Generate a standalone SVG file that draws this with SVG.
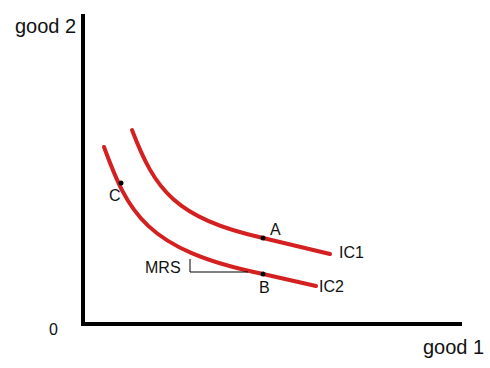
<svg xmlns="http://www.w3.org/2000/svg" width="490" height="368" viewBox="0 0 490 368">
<style>
text{font-family:"Liberation Sans",Arial,sans-serif;fill:#111;font-size:16px}
.lbl{font-size:20px}
.ic{fill:none;stroke:#d42020;stroke-width:4;stroke-linecap:round}
.ax{stroke:#000;stroke-width:4;fill:none}
.dot{fill:#000}
</style>
<rect width="490" height="368" fill="#fff"/>
<g id="axes">
<path class="ax" d="M83,14 V326 M81,324 H462"/>
<text class="lbl" x="15" y="33">good 2</text>
<text class="lbl" x="423" y="354">good 1</text>
<text x="49" y="335">0</text>
</g>
<g id="IC1">
<path class="ic" d="M132,130 C155,190 175,218 263,238 L330,254"/>
<text x="339" y="258">IC1</text>
</g>
<g id="IC2">
<path class="ic" d="M104,147 C128,212 145,250 263,274 L316,286"/>
<text x="319" y="292">IC2</text>
</g>
<g id="pointA"><circle class="dot" cx="263" cy="238" r="2.5"/><text x="270" y="235">A</text></g>
<g id="pointB"><circle class="dot" cx="263" cy="274" r="2.5"/><text x="259" y="293">B</text></g>
<g id="pointC"><circle class="dot" cx="121" cy="183" r="2.5"/><text x="109" y="201">C</text></g>
<g id="MRS">
<path d="M190,259 V272 H248" stroke="#000" stroke-width="1" fill="none"/>
<text x="145" y="273">MRS</text>
</g>
</svg>
